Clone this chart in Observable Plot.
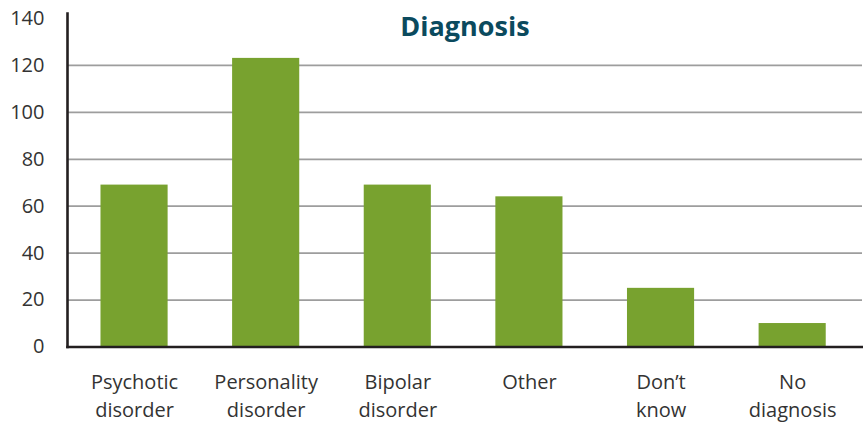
<!DOCTYPE html>
<html>
<head>
<meta charset="utf-8">
<script src="https://cdn.jsdelivr.net/npm/d3@7"></script>
<script src="https://cdn.jsdelivr.net/npm/@observablehq/plot@0.6"></script>
<style>
  html, body { margin: 0; padding: 0; background: #fff; }
</style>
</head>
<body>
<div id="chart"></div>
<script>
const title = "Diagnosis";
const categories = ["Psychotic\ndisorder", "Personality\ndisorder", "Bipolar\ndisorder", "Other", "Don’t\nknow", "No\ndiagnosis"];
const counts = [69, 123, 69, 64, 25, 10];
const yTicks = [0, 20, 40, 60, 80, 100, 120, 140];
const gridTicks = [20, 40, 60, 80, 100, 120];

const data = categories.map((c, i) => ({category: c, count: counts[i]}));

const chart = Plot.plot({
  width: 863,
  height: 424,
  marginTop: 13,
  insetTop: 5,
  marginLeft: 67,
  marginRight: 1,
  marginBottom: 77.5,
  style: {fontFamily: "'Open Sans', sans-serif", color: "#333", background: "#fff"},
  x: {domain: categories, paddingInner: 0.49, paddingOuter: 0.265, align: 0.48, round: false, label: null},
  y: {domain: [0, 140], label: null},
  marks: [
    Plot.gridY(gridTicks, {stroke: "#9d9d9d", strokeOpacity: 1, strokeWidth: 1.8}),
    Plot.barY(data, {x: "category", y: "count", fill: "#78a22f"}),
    Plot.frame({anchor: "left", stroke: "#231f20", strokeWidth: 2.6}),
    Plot.frame({anchor: "bottom", stroke: "#231f20", strokeWidth: 2.6}),
    Plot.axisY(yTicks, {tickSize: 0, tickPadding: 23, fontSize: 20, fill: "#333", label: null}),
    Plot.axisX({tickSize: 0, tickPadding: 22, fontSize: 20, lineHeight: 1.4, fill: "#333", label: null}),
    Plot.text([title], {text: d => d, frameAnchor: "top", dy: 3, fontSize: 27, fontWeight: "bold", fill: "#0b4a5e"})
  ]
});
document.getElementById("chart").appendChild(chart);
</script>
</body>
</html>
